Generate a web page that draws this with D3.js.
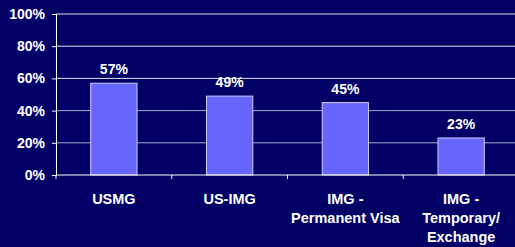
<!DOCTYPE html>
<html>
<head>
<meta charset="utf-8">
<script src="https://cdn.jsdelivr.net/npm/d3@7"></script>
<style>
  html, body { margin: 0; padding: 0; background: #000066; overflow: hidden; }
  svg { display: block; font-family: Arial, "Liberation Sans", sans-serif; font-weight: bold; }
</style>
</head>
<body>
<div id="chart"></div>
<script>
const width = 515, height = 247;

const categories = [["USMG"], ["US-IMG"], ["IMG -", "Permanent Visa"], ["IMG -", "Temporary/", "Exchange"]];
const values = [57, 49, 45, 23];
const yTicks = [0, 20, 40, 60, 80, 100];

const margin = { left: 56, top: 14, bottom: 72 };
const plotRight = 519;

const svg = d3.select("#chart").append("svg")
    .attr("width", width)
    .attr("height", height);

svg.append("rect").attr("width", width).attr("height", height).attr("fill", "#000066");

const x = d3.scaleBand()
    .domain(d3.range(categories.length))
    .range([margin.left, plotRight])
    .paddingInner(0.6)
    .paddingOuter(0.3);

const y = d3.scaleLinear()
    .domain([0, 100])
    .range([height - margin.bottom, margin.top]);

// gridlines
svg.append("g")
    .selectAll("line")
    .data(yTicks.filter(d => d > 0))
    .join("line")
    .attr("x1", margin.left).attr("x2", plotRight)
    .attr("y1", d => y(d)).attr("y2", d => y(d))
    .attr("stroke", d => d >= 60 ? "#e0e0f0" : "#a8a8c8")
    .attr("stroke-width", 1);

// bars
svg.append("g")
    .selectAll("rect")
    .data(values)
    .join("rect")
    .attr("x", (d, i) => x(i))
    .attr("width", x.bandwidth())
    .attr("y", d => y(d))
    .attr("height", d => y(0) - y(d))
    .attr("fill", "#6666ff")
    .attr("stroke", "#ccccff")
    .attr("stroke-width", 1);

// value labels
svg.append("g")
    .selectAll("text")
    .data(values)
    .join("text")
    .attr("x", (d, i) => x(i) + x.bandwidth() / 2)
    .attr("y", d => y(d) - 9)
    .attr("text-anchor", "middle")
    .attr("fill", "#ffffff")
    .attr("font-size", 14)
    .text(d => d + "%");

// y axis
const yAxis = svg.append("g")
    .attr("transform", `translate(${margin.left},0)`)
    .call(d3.axisLeft(y).tickValues(yTicks).tickFormat(d => d + "%").tickSize(4).tickPadding(7));
yAxis.selectAll("path, line").attr("stroke", "#ffffff");
yAxis.selectAll("text").attr("fill", "#ffffff").attr("font-size", 14)
    .attr("font-family", "Arial, 'Liberation Sans', sans-serif").attr("font-weight", "bold");

// x axis baseline and boundary ticks
const base = y(0);
svg.append("line")
    .attr("x1", margin.left).attr("x2", plotRight)
    .attr("y1", base).attr("y2", base)
    .attr("stroke", "#ffffff");
svg.append("g")
    .selectAll("line")
    .data(d3.range(categories.length + 1))
    .join("line")
    .attr("x1", i => margin.left + i * x.step())
    .attr("x2", i => margin.left + i * x.step())
    .attr("y1", base).attr("y2", base + 4)
    .attr("stroke", "#ffffff");

// category labels
const catG = svg.append("g")
    .selectAll("text")
    .data(categories)
    .join("text")
    .attr("x", (d, i) => x(i) + x.bandwidth() / 2)
    .attr("y", base + 29)
    .attr("text-anchor", "middle")
    .attr("fill", "#ffffff")
    .attr("font-size", 14.5);
catG.selectAll("tspan")
    .data(d => d)
    .join("tspan")
    .attr("x", function () { return this.parentNode.getAttribute("x"); })
    .attr("dy", (d, i) => i === 0 ? 0 : 19)
    .text(d => d);
</script>
</body>
</html>
